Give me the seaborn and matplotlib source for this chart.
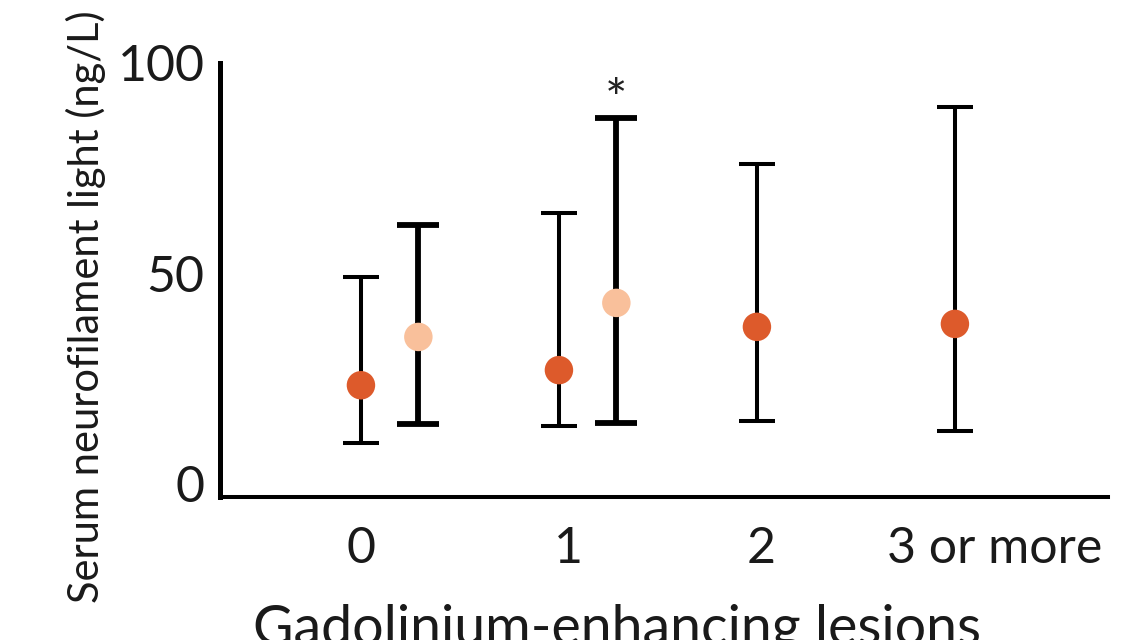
import numpy as np
import matplotlib
matplotlib.use("Agg")
import matplotlib.pyplot as plt
import seaborn as sns
import pandas as pd

groups = ["0", "1", "2", "3 or more"]

# dark orange series (all four lesion groups)
dark_mid = [23.3, 26.9, 37.2, 37.9]
dark_low = [9.5, 13.6, 14.8, 12.4]
dark_high = [49.1, 64.2, 76.0, 89.5]

# light orange series (only groups 0 and 1)
light_groups = ["0", "1"]
light_mid = [34.8, 42.9]
light_low = [14.0, 14.3]
light_high = [61.4, 86.9]

star_group = "1"
star_label = "*"

yticks = [0, 50, 100]
xlabel = "Gadolinium-enhancing lesions"
ylabel = "Serum neurofilament light (ng/L)"

#   --Style...
sns.set_theme(style="white")
plt.rcParams["font.family"] = ["Lato", "DejaVu Sans"]

DARK = "#DD5A2B"
LIGHT = "#F9C09B"
light_shift = 0.29
tick_pos = [0, 1.05, 2.02, 3.2]

dark_df = pd.DataFrame({"x": np.arange(len(groups)), "mid": dark_mid,
                        "low": dark_low, "high": dark_high, "series": "dark"})
light_df = pd.DataFrame({"x": [groups.index(g) + light_shift for g in light_groups],
                         "mid": light_mid, "low": light_low, "high": light_high,
                         "series": "light"})
df = pd.concat([dark_df, light_df], ignore_index=True)

fig = plt.figure(figsize=(11.38, 6.4), dpi=100)
ax = fig.add_axes([0.1933, 0.2234, 0.7803, 0.6782])

# whiskers first, dots on top
ax.errorbar(dark_df["x"], dark_df["mid"],
            yerr=[dark_df["mid"] - dark_df["low"], dark_df["high"] - dark_df["mid"]],
            fmt="none", ecolor="black", elinewidth=2.9, capsize=13.3, capthick=2.9, zorder=2)
ax.errorbar(light_df["x"], light_df["mid"],
            yerr=[light_df["mid"] - light_df["low"], light_df["high"] - light_df["mid"]],
            fmt="none", ecolor="black", elinewidth=4.2, capsize=14.8, capthick=4.2, zorder=2)

sns.scatterplot(data=df, x="x", y="mid", hue="series", palette={"dark": DARK, "light": LIGHT},
                s=420, linewidth=0, legend=False, ax=ax, zorder=3)

# significance star over the light bar of group 1
sx = groups.index(star_group) + light_shift
sy = light_df.loc[light_df["x"] == sx, "high"].iloc[0]
ax.text(sx, sy + 0.2, star_label, ha="center", va="baseline", fontsize=38, color="#222222")

ax.set_xlim(-0.712, 3.773)
ax.set_ylim(-3.3, 100)
ax.set_xticks(tick_pos)
ax.set_xticklabels(groups)
ax.set_yticks(yticks)
ax.tick_params(axis="both", length=0, labelsize=36, colors="#1a1a1a")
ax.tick_params(axis="x", pad=21)
ax.tick_params(axis="y", pad=11)

sns.despine(ax=ax)
ax.spines["left"].set_linewidth(3.6)
ax.spines["bottom"].set_linewidth(2.9)
ax.spines["left"].set_color("black")
ax.spines["bottom"].set_color("black")

ax.set_xlabel(xlabel, fontsize=40, color="#1a1a1a")
ax.xaxis.set_label_coords(0.447, -0.245)
ax.set_ylabel(ylabel, fontsize=30, color="#1a1a1a", ha="left")
ax.yaxis.set_label_coords(-0.128, -0.244)

fig.savefig("out.png", dpi=100)
